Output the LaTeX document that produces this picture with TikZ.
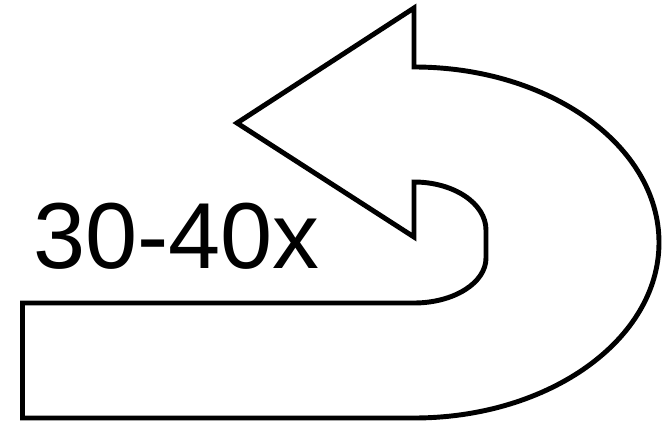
\documentclass[tikz,border=0pt]{standalone}
\usepackage{fontspec}
\setmainfont{Liberation Sans}
\begin{document}
\begin{tikzpicture}[x=0.03cm,y=0.03cm,
  outline/.style={draw=black,line width=4.2pt,line join=miter,fill=white}]
\useasboundingbox (0,0) rectangle (668,-422);
\coordinate (innerTop) at (414,-182);
\draw[outline] (innerTop)
  arc[start angle=90,end angle=0,x radius=72,y radius=48]
  -- ++(0,-28)
  arc[start angle=0,end angle=-90,x radius=72,y radius=45]
  -- (22.5,-303) -- (22.5,-418) -- (414,-418)
  arc[start angle=-90,end angle=90,x radius=245,y radius=175.5]
  -- (414,-8) -- (237,-123) -- (414,-237) -- cycle;
\node[anchor=base west,inner sep=0pt,font=\fontsize{80}{90}\selectfont] (lbl) at (33,-268) {30-40x};
\end{tikzpicture}
\end{document}
